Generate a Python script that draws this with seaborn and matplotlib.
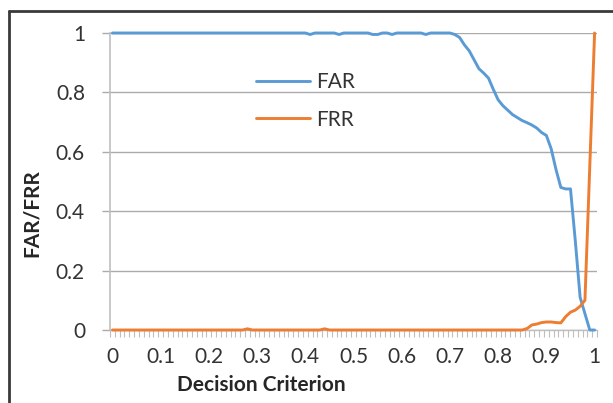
import matplotlib
matplotlib.use("Agg")
import matplotlib.pyplot as plt
import seaborn as sns
import pandas as pd
import numpy as np
from matplotlib.lines import Line2D

criterion = [round(i * 0.01, 2) for i in range(101)]

far = ([1.0] * 41 + [0.995] + [1.0] * 5 + [0.995] + [1.0] * 6 + [0.995, 0.995] +
       [1.0] * 2 + [0.995] + [1.0] * 6 + [0.995] + [1.0] * 5 +
       [0.995, 0.985, 0.96, 0.94, 0.91, 0.88, 0.865, 0.848, 0.81, 0.775,
        0.755, 0.74, 0.725, 0.715, 0.705, 0.698, 0.69, 0.68, 0.665, 0.655,
        0.61, 0.54, 0.48, 0.475, 0.475, 0.30, 0.11, 0.055, 0.0, 0.0])

frr = ([0.0] * 28 + [0.004] + [0.0] * 15 + [0.004] + [0.0] * 41 +
       [0.005, 0.017, 0.02, 0.025, 0.027, 0.027, 0.025, 0.024, 0.045, 0.06,
        0.067, 0.08, 0.1, 0.55, 1.0])

xtick_vals = [0, 0.1, 0.2, 0.3, 0.4, 0.5, 0.6, 0.7, 0.8, 0.9, 1.0]
xtick_labels = ["0", "0.1", "0.2", "0.3", "0.4", "0.5", "0.6", "0.7", "0.8", "0.9", "1"]
ytick_vals = [0, 0.2, 0.4, 0.6, 0.8, 1.0]
ytick_labels = ["0", "0.2", "0.4", "0.6", "0.8", "1"]

df = pd.DataFrame({
    "x": criterion * 2,
    "y": far + frr,
    "series": ["FAR"] * len(far) + ["FRR"] * len(frr),
})

sns.set_theme(style="white")
plt.rcParams["font.family"] = ["Lato", "DejaVu Sans"]

fig = plt.figure(figsize=(6.13, 4.03), dpi=100)
ax = fig.add_axes([110 / 613, 1 - 330 / 403, 487 / 613, 297 / 403])

colors = {"FAR": "#5B9BD5", "FRR": "#ED7D31"}
sns.lineplot(data=df, x="x", y="y", hue="series", palette=colors, ax=ax,
             linewidth=2.1, legend=False)
for ln in ax.lines:
    ln.set_clip_on(False)
    ln.set_zorder(5)

ax.set_xlim(-0.005, 1.005)
ax.set_ylim(0, 1)

ax.set_yticks(ytick_vals)
ax.set_yticklabels(ytick_labels)
ax.set_xticks(xtick_vals)
ax.set_xticklabels(xtick_labels)
ax.set_xticks([round(-0.005 + 0.01 * i, 3) for i in range(102)], minor=True)

ax.grid(axis="y", color="#ABABAB", linewidth=1.0)
ax.grid(axis="x", visible=False)
ax.set_axisbelow(True)

for side in ["top", "right"]:
    ax.spines[side].set_visible(False)
ax.spines["left"].set_color("#BFBFBF")
ax.spines["left"].set_linewidth(1.2)
ax.spines["left"].set_position(("data", -0.005))
ax.spines["bottom"].set_color("#BFBFBF")
ax.spines["bottom"].set_linewidth(1.0)

ax.tick_params(axis="y", which="major", length=6, color="#ABABAB", width=1.0,
               labelsize=15, labelcolor="#333333", pad=12, left=True)
ax.tick_params(axis="x", which="major", length=0, labelsize=15,
               labelcolor="#333333", pad=12)
ax.tick_params(axis="x", which="minor", length=5, color="#BFBFBF", width=0.8,
               bottom=True)

ax.set_xlabel("Decision Criterion", fontsize=15, fontweight="bold", color="#262626")
ax.set_ylabel("FAR/FRR", fontsize=15, fontweight="bold", color="#262626")
ax.xaxis.set_label_coords((261 - 110) / 487, -(375 - 330) / 297)
ax.yaxis.set_label_coords(-(110 - 42) / 487, (330 - 213) / 297)

handles = [Line2D([0], [0], color=colors["FAR"], lw=2.1),
           Line2D([0], [0], color=colors["FRR"], lw=2.1)]
leg = ax.legend(handles, ["FAR", "FRR"], loc="upper left",
                bbox_to_anchor=((256 - 110) / 487, (330 - 72) / 297),
                frameon=False, fontsize=15, handlelength=2.6, handletextpad=0.3,
                labelspacing=0.85, borderaxespad=0, borderpad=0)
for t in leg.get_texts():
    t.set_color("#333333")

fig.add_artist(Line2D([9 / 613, 1.0], [1 - 11 / 403, 1 - 11 / 403],
                      transform=fig.transFigure, color="#3A3A3A", lw=2.0))
fig.add_artist(Line2D([9 / 613, 9 / 613], [0.0, 1 - 11 / 403],
                      transform=fig.transFigure, color="#3A3A3A", lw=2.0))

fig.savefig("out.png", dpi=100)
